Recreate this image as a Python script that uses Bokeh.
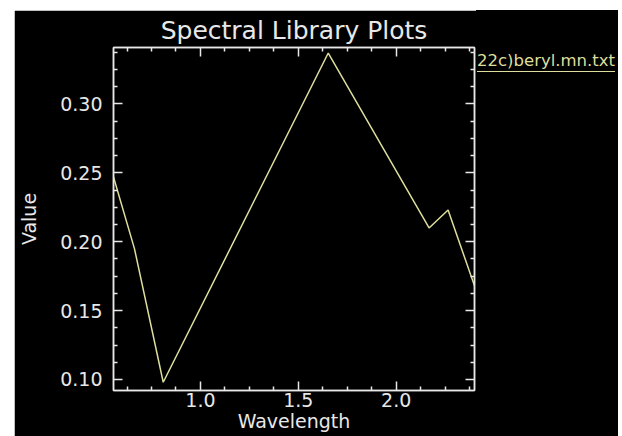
from bokeh.plotting import figure
from bokeh.models import LinearAxis, FixedTicker, Range1d, PrintfTickFormatter, Div, Spacer
from bokeh.layouts import row, column
from bokeh.embed import file_html
from bokeh.resources import INLINE

wavelength = [0.556, 0.663, 0.81, 1.653, 2.168, 2.265, 2.40]
reflect = [0.247, 0.195, 0.098, 0.337, 0.210, 0.223, 0.168]
x_ticks = [1.0, 1.5, 2.0]
x_minor = [0.625, 0.75, 0.875, 1.125, 1.25, 1.375, 1.625, 1.75, 1.875, 2.125, 2.25, 2.375]
y_ticks = [0.10, 0.15, 0.20, 0.25, 0.30]
y_minor = [0.1125, 0.125, 0.1375, 0.1625, 0.175, 0.1875, 0.2125, 0.225, 0.2375,
           0.2625, 0.275, 0.2875, 0.3125, 0.325, 0.3375]
legend_text = "22c)beryl.mn.txt"

FG = "#e8e8e8"
LINE = "#dede9c"
FONT = "DejaVu Sans"

TOP = 10
H = 436 - TOP

p = figure(width=462, height=H, output_backend="svg", toolbar_location=None,
           x_range=Range1d(0.556, 2.40), y_range=Range1d(0.092, 0.341),
           x_axis_location=None, y_axis_location=None,
           min_border_left=99, min_border_right=2, min_border_top=36,
           min_border_bottom=46)
p.margin = 0
p.background_fill_color = "black"
p.border_fill_color = "black"
p.outline_line_color = FG
p.outline_line_width = 1.5
p.grid.visible = False

p.title.text = "Spectral Library Plots"
p.title.text_color = FG
p.title.text_font = FONT
p.title.text_font_style = "normal"
p.title.text_font_size = "25px"
p.title.align = "center"
p.title.standoff = 6

def style(ax, ticks, minor, fmt=None):
    ax.ticker = FixedTicker(ticks=ticks, minor_ticks=minor)
    ax.axis_line_color = FG
    ax.axis_line_width = 1.5
    ax.major_tick_line_color = FG
    ax.minor_tick_line_color = FG
    ax.major_tick_line_width = 1.5
    ax.minor_tick_line_width = 1.5
    ax.major_tick_in = 9
    ax.major_tick_out = 0
    ax.minor_tick_in = 4
    ax.minor_tick_out = 0
    ax.major_label_text_color = FG
    ax.major_label_text_font = FONT
    ax.major_label_text_font_size = "19px"
    ax.axis_label_text_color = FG
    ax.axis_label_text_font = FONT
    ax.axis_label_text_font_size = "19px"
    ax.axis_label_text_font_style = "normal"
    if fmt is None:
        ax.major_label_overrides = {t: "" for t in ticks}
        ax.major_label_standoff = 0
    else:
        ax.formatter = PrintfTickFormatter(format=fmt)

xb = LinearAxis(axis_label="Wavelength")
style(xb, x_ticks, x_minor, "%.1f")
xb.major_label_standoff = 2
xb.axis_label_standoff = 0
p.add_layout(xb, "below")

yl = LinearAxis(axis_label="Value")
style(yl, y_ticks, y_minor, "%.2f")
yl.major_label_standoff = 11
yl.axis_label_standoff = 17
p.add_layout(yl, "left")

xt = LinearAxis()
style(xt, x_ticks, x_minor)
p.add_layout(xt, "above")

yr = LinearAxis()
style(yr, y_ticks, y_minor)
p.add_layout(yr, "right")

p.line(wavelength, reflect, line_color=LINE, line_width=1.5)

legend_html = (
    f'<div style="padding-top:{51 - TOP}px;padding-left:1px;">'
    f'<div style="color:{LINE};font-family:\'{FONT}\';font-size:16.5px;line-height:19px;'
    f'white-space:nowrap;border-bottom:1.5px solid {LINE};padding-bottom:1px;">'
    f'{legend_text}</div></div>'
)
legend_div = Div(text=legend_html, width=142, height=H, margin=0,
                 styles={"background-color": "black", "overflow": "hidden"})

inner = row(Spacer(width=14, height=H), p, legend_div)
inner.spacing = 0
layout = column(Spacer(width=10, height=TOP), inner)
layout.spacing = 0
open("out.html", "w").write(file_html(layout, INLINE))
